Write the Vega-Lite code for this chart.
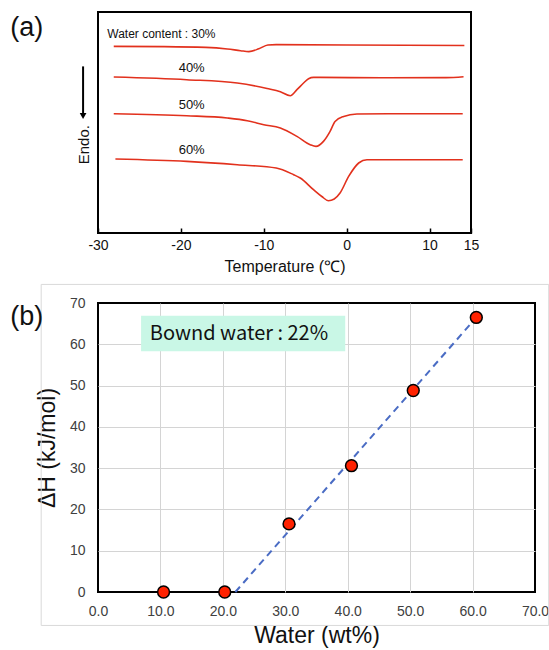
{
  "$schema": "https://vega.github.io/schema/vega-lite/v6.json",
  "padding": {"left": 9, "top": 11, "right": 0, "bottom": 0},
  "spacing": 7,
  "config": {
    "font": "Liberation Sans",
    "view": {"stroke": "#000000", "strokeWidth": 2},
    "axis": {"labelFont": "Liberation Sans", "titleFont": "Liberation Sans", "titleFontWeight": "normal", "labelFlush": false}
  },
  "datasets": {
    "dsc": [
      {"water": "30%", "temp": -28.1, "signal": 186.6},
      {"water": "30%", "temp": -22.0, "signal": 186.4},
      {"water": "30%", "temp": -17.0, "signal": 185.6},
      {"water": "30%", "temp": -14.4, "signal": 184.0},
      {"water": "30%", "temp": -12.8, "signal": 182.3},
      {"water": "30%", "temp": -11.8, "signal": 181.4},
      {"water": "30%", "temp": -10.6, "signal": 184.2},
      {"water": "30%", "temp": -9.5, "signal": 188.0},
      {"water": "30%", "temp": -8.5, "signal": 188.4},
      {"water": "30%", "temp": 0.0, "signal": 188.0},
      {"water": "30%", "temp": 14.2, "signal": 187.5},
      {"water": "40%", "temp": -28.1, "signal": 156.0},
      {"water": "40%", "temp": -19.3, "signal": 153.3},
      {"water": "40%", "temp": -13.2, "signal": 150.0},
      {"water": "40%", "temp": -9.6, "signal": 144.5},
      {"water": "40%", "temp": -8.0, "signal": 141.3},
      {"water": "40%", "temp": -6.8, "signal": 137.3},
      {"water": "40%", "temp": -6.0, "signal": 143.3},
      {"water": "40%", "temp": -5.2, "signal": 150.0},
      {"water": "40%", "temp": -4.6, "signal": 154.3},
      {"water": "40%", "temp": -4.0, "signal": 155.6},
      {"water": "40%", "temp": 5.0, "signal": 155.2},
      {"water": "40%", "temp": 12.0, "signal": 155.4},
      {"water": "40%", "temp": 14.1, "signal": 156.3},
      {"water": "50%", "temp": -28.1, "signal": 119.3},
      {"water": "50%", "temp": -19.3, "signal": 117.3},
      {"water": "50%", "temp": -14.4, "signal": 115.0},
      {"water": "50%", "temp": -12.0, "signal": 112.3},
      {"water": "50%", "temp": -10.0, "signal": 108.3},
      {"water": "50%", "temp": -8.0, "signal": 105.0},
      {"water": "50%", "temp": -6.0, "signal": 96.6},
      {"water": "50%", "temp": -4.4, "signal": 88.3},
      {"water": "50%", "temp": -3.7, "signal": 86.6},
      {"water": "50%", "temp": -2.8, "signal": 91.6},
      {"water": "50%", "temp": -2.0, "signal": 101.6},
      {"water": "50%", "temp": -1.4, "signal": 111.6},
      {"water": "50%", "temp": -0.36, "signal": 116.6},
      {"water": "50%", "temp": 1.24, "signal": 119.0},
      {"water": "50%", "temp": 5.0, "signal": 119.3},
      {"water": "50%", "temp": 14.0, "signal": 119.3},
      {"water": "60%", "temp": -27.9, "signal": 74.0},
      {"water": "60%", "temp": -19.3, "signal": 71.6},
      {"water": "60%", "temp": -13.2, "signal": 68.3},
      {"water": "60%", "temp": -8.5, "signal": 65.0},
      {"water": "60%", "temp": -6.4, "signal": 58.3},
      {"water": "60%", "temp": -5.6, "signal": 55.0},
      {"water": "60%", "temp": -4.0, "signal": 43.3},
      {"water": "60%", "temp": -3.0, "signal": 36.5},
      {"water": "60%", "temp": -2.2, "signal": 32.3},
      {"water": "60%", "temp": -1.5, "signal": 34.0},
      {"water": "60%", "temp": -0.8, "signal": 40.0},
      {"water": "60%", "temp": 0.24, "signal": 56.6},
      {"water": "60%", "temp": 1.45, "signal": 70.0},
      {"water": "60%", "temp": 2.45, "signal": 73.3},
      {"water": "60%", "temp": 14.0, "signal": 73.3}
    ],
    "dscFirstLabel": [
      {"temp": -22.35, "signal": 199.3, "label": "Water content : 30%"}
    ],
    "dscLabels": [
      {"temp": -18.7, "signal": 165.0, "label": "40%"},
      {"temp": -18.7, "signal": 128.3, "label": "50%"},
      {"temp": -18.7, "signal": 83.3, "label": "60%"}
    ],
    "panelA": [{"temp": -40.6, "signal": 205, "label": "(a)"}],
    "endo": [{"temp": -31.7, "signal": 88.3, "label": "Endo."}],
    "arrow": [{"temp": -31.8, "signal": 166.6, "signal2": 119}],
    "arrowHead": [{"temp": -31.8, "signal": 117}],
    "points": [
      {"water": 10.5, "dH": 0.0},
      {"water": 20.3, "dH": 0.0},
      {"water": 30.6, "dH": 16.5},
      {"water": 40.6, "dH": 30.6},
      {"water": 50.5, "dH": 48.8},
      {"water": 60.6, "dH": 66.5}
    ],
    "fit": [
      {"water": 22.0, "dH": 0.0},
      {"water": 60.6, "dH": 66.5}
    ],
    "outer": [{"water": -9.1, "water2": 72.2, "dH": 74.5, "dH2": -8.1}],
    "box": [{"water": 6.9, "water2": 39.6, "dH": 58.3, "dH2": 66.9}],
    "boxText": [{"water": 8.3, "dH": 62.5, "label": "Bownd water : 22%"}],
    "panelB": [{"water": -14.06, "dH": 66.5, "label": "(b)"}]
  },
  "vconcat": [
    {
      "width": 373,
      "height": 221,
      "layer": [
        {
          "data": {"name": "dsc"},
          "mark": {"type": "line", "interpolate": "monotone", "color": "#e2311d", "strokeWidth": 1.6},
          "encoding": {
            "x": {
              "field": "temp", "type": "quantitative",
              "scale": {"domain": [-30, 15], "nice": false, "zero": false},
              "axis": {
                "title": "Temperature (℃)", "values": [-30, -20, -10, 0, 10, 15],
                "labelExpr": "'' + datum.value",
                "grid": false, "domain": false, "tickSize": -5, "tickColor": "#000000", "tickWidth": 1.5,
                "labelFontSize": 14, "labelColor": "#111111", "labelPadding": 10,
                "titleFontSize": 16, "titleColor": "#111111", "titlePadding": 6
              }
            },
            "y": {
              "field": "signal", "type": "quantitative",
              "scale": {"domain": [0, 221], "nice": false, "zero": false},
              "axis": null
            },
            "detail": {"field": "water", "type": "nominal"}
          }
        },
        {
          "data": {"name": "dscFirstLabel"},
          "mark": {"type": "text", "fontSize": 12, "color": "#111111", "align": "center", "baseline": "middle"},
          "encoding": {
            "x": {"field": "temp", "type": "quantitative"},
            "y": {"field": "signal", "type": "quantitative"},
            "text": {"field": "label"}
          }
        },
        {
          "data": {"name": "dscLabels"},
          "mark": {"type": "text", "fontSize": 13, "color": "#111111", "align": "center", "baseline": "middle"},
          "encoding": {
            "x": {"field": "temp", "type": "quantitative"},
            "y": {"field": "signal", "type": "quantitative"},
            "text": {"field": "label"}
          }
        },
        {
          "data": {"name": "panelA"},
          "mark": {"type": "text", "fontSize": 27, "color": "#111111", "align": "left", "baseline": "middle"},
          "encoding": {
            "x": {"field": "temp", "type": "quantitative"},
            "y": {"field": "signal", "type": "quantitative"},
            "text": {"field": "label"}
          }
        },
        {
          "data": {"name": "endo"},
          "mark": {"type": "text", "fontSize": 15, "color": "#111111", "align": "center", "baseline": "middle", "angle": 270},
          "encoding": {
            "x": {"field": "temp", "type": "quantitative"},
            "y": {"field": "signal", "type": "quantitative"},
            "text": {"field": "label"}
          }
        },
        {
          "data": {"name": "arrow"},
          "mark": {"type": "rule", "color": "#000000", "strokeWidth": 2},
          "encoding": {
            "x": {"field": "temp", "type": "quantitative"},
            "y": {"field": "signal", "type": "quantitative"},
            "y2": {"field": "signal2"}
          }
        },
        {
          "data": {"name": "arrowHead"},
          "mark": {"type": "point", "shape": "triangle-down", "filled": true, "color": "#000000", "size": 45, "opacity": 1},
          "encoding": {
            "x": {"field": "temp", "type": "quantitative"},
            "y": {"field": "signal", "type": "quantitative"}
          }
        }
      ]
    },
    {
      "width": 437,
      "height": 289,
      "layer": [
        {
          "data": {"name": "outer"},
          "mark": {"type": "rect", "fill": null, "fillOpacity": 0, "stroke": "#d9d9d9", "strokeWidth": 1},
          "encoding": {
            "x": {
              "field": "water", "type": "quantitative",
              "scale": {"domain": [0, 70], "nice": false},
              "axis": {
                "title": "Water (wt%)", "values": [0, 10, 20, 30, 40, 50, 60, 70], "format": ".1f",
                "grid": true, "gridColor": "#d4d4d4", "gridWidth": 1,
                "gridOpacity": {"condition": {"test": "datum.value === 0 || datum.value === 70", "value": 0}, "value": 1},
                "domain": false, "ticks": false,
                "labelFontSize": 14, "labelColor": "#404040", "labelPadding": 12,
                "titleFontSize": 23, "titleColor": "#111111", "titlePadding": 6
              }
            },
            "x2": {"field": "water2"},
            "y": {
              "field": "dH", "type": "quantitative",
              "scale": {"domain": [0, 70], "nice": false},
              "axis": {
                "title": "ΔH (kJ/mol)", "values": [0, 10, 20, 30, 40, 50, 60, 70],
                "grid": true, "gridColor": "#d4d4d4", "gridWidth": 1,
                "gridOpacity": {"condition": {"test": "datum.value === 0 || datum.value === 70", "value": 0}, "value": 1},
                "domain": false, "ticks": false,
                "labelFontSize": 14, "labelColor": "#404040", "labelPadding": 13,
                "titleFontSize": 23, "titleColor": "#111111", "titlePadding": 10
              }
            },
            "y2": {"field": "dH2"}
          }
        },
        {
          "data": {"name": "box"},
          "mark": {"type": "rect", "color": "#c9f7e6"},
          "encoding": {
            "x": {"field": "water", "type": "quantitative"},
            "x2": {"field": "water2"},
            "y": {"field": "dH", "type": "quantitative"},
            "y2": {"field": "dH2"}
          }
        },
        {
          "data": {"name": "boxText"},
          "mark": {"type": "text", "fontSize": 20, "font": "Noto Sans CJK JP", "color": "#111111", "align": "left", "baseline": "middle"},
          "encoding": {
            "x": {"field": "water", "type": "quantitative"},
            "y": {"field": "dH", "type": "quantitative"},
            "text": {"field": "label"}
          }
        },
        {
          "data": {"name": "fit"},
          "mark": {"type": "line", "color": "#4a6cc4", "strokeWidth": 2, "strokeDash": [7, 5]},
          "encoding": {
            "x": {"field": "water", "type": "quantitative"},
            "y": {"field": "dH", "type": "quantitative"}
          }
        },
        {
          "data": {"name": "points"},
          "mark": {"type": "point", "filled": true, "color": "#ff2200", "stroke": "#000000", "strokeWidth": 1.5, "size": 140, "opacity": 1},
          "encoding": {
            "x": {"field": "water", "type": "quantitative"},
            "y": {"field": "dH", "type": "quantitative"}
          }
        },
        {
          "data": {"name": "panelB"},
          "mark": {"type": "text", "fontSize": 27, "color": "#111111", "align": "left", "baseline": "middle"},
          "encoding": {
            "x": {"field": "water", "type": "quantitative"},
            "y": {"field": "dH", "type": "quantitative"},
            "text": {"field": "label"}
          }
        }
      ]
    }
  ]
}
